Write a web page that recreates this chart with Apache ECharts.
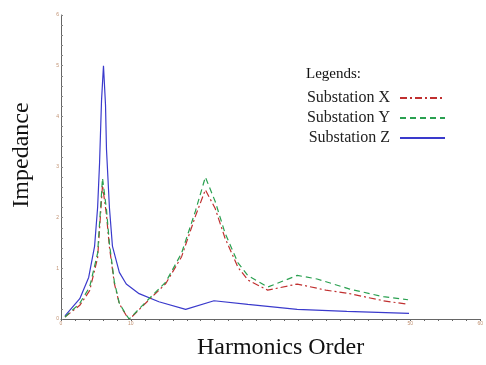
<!DOCTYPE html>
<html><head><meta charset="utf-8">
<script src="https://cdn.jsdelivr.net/npm/echarts@6/dist/echarts.min.js"></script>
<style>html,body{margin:0;padding:0;background:#fff}#c{width:486px;height:365px}</style>
</head><body><div id="c"></div>
<script>
// Harmonic order (x) and impedance (y, arbitrary units)
const seriesNames = ['Substation X', 'Substation Y', 'Substation Z'];
const xTickLabels = [0, 10, 50, 60];

const zOrder = [0.57, 2.69, 3.96, 4.81, 5.24, 5.52, 5.80, 6.08, 6.37, 6.51, 6.93, 7.36, 8.35, 9.34, 11.18, 14.01, 17.84, 21.9, 26.74, 33.8, 40.9, 49.81];
const zImp   = [0.06, 0.40, 0.82, 1.44, 2.20, 3.08, 4.31, 5.00, 4.23, 3.35, 2.20, 1.44, 0.92, 0.69, 0.50, 0.34, 0.19, 0.36, 0.29, 0.19, 0.15, 0.11];

const yOrder = [0.57, 2.69, 4.10, 5.24, 5.94, 6.51, 6.93, 7.64, 8.35, 9.34, 9.76, 10.19, 12.17, 15.0, 17.26, 19.24, 20.66, 22.07, 23.49, 25.33, 26.74, 29.57, 33.82, 36.65, 41.32, 46.13, 49.67];
const yImp   = [0.04, 0.31, 0.63, 1.30, 2.78, 2.16, 1.49, 0.73, 0.31, 0.08, 0.0, 0.06, 0.34, 0.73, 1.30, 2.13, 2.80, 2.32, 1.69, 1.11, 0.86, 0.63, 0.86, 0.79, 0.59, 0.44, 0.38];

const xOrder = [0.57, 2.69, 4.10, 5.24, 5.94, 6.51, 6.93, 7.64, 8.35, 9.34, 9.76, 10.19, 12.17, 15.0, 17.26, 19.24, 20.66, 22.07, 23.49, 25.33, 26.74, 29.57, 33.82, 37.9, 41.32, 46.13, 49.67];
const xImp   = [0.04, 0.27, 0.56, 1.21, 2.64, 2.05, 1.42, 0.70, 0.30, 0.07, 0.0, 0.05, 0.32, 0.70, 1.23, 2.03, 2.55, 2.18, 1.59, 1.02, 0.77, 0.57, 0.69, 0.57, 0.50, 0.36, 0.29];

const pair = (a, b) => a.map((v, i) => [v, b[i]]);
const serif = '"Liberation Serif", "DejaVu Serif", serif';

const chart = echarts.init(document.getElementById('c'), null, {renderer: 'canvas'});
chart.setOption({
  animation: false,
  backgroundColor: '#fff',
  grid: {left: 61, right: 1, top: 15, bottom: 37, containLabel: false},
  legend: {
    orient: 'vertical', right: 35, top: 85, align: 'right',
    itemWidth: 45, itemHeight: 10, itemGap: 4,
    itemStyle: {opacity: 0},
    textStyle: {fontFamily: serif, fontSize: 16, color: '#222', padding: [0, 5, 0, 0]},
    data: seriesNames
  },
  graphic: [{type: 'text', left: 306, top: 67, style: {text: 'Legends:', font: '15px ' + serif, fill: '#111'}}],
  xAxis: {
    type: 'value', min: 0, max: 60, interval: 2,
    name: 'Harmonics Order', nameLocation: 'middle', nameGap: 17,
    nameTextStyle: {fontFamily: serif, fontSize: 24, color: '#111', padding: [0, 0, 0, 20]},
    axisLine: {lineStyle: {color: '#666'}},
    axisTick: {inside: false, length: 2, lineStyle: {color: '#666'}},
    axisLabel: {fontSize: 5, color: '#c09070', margin: 2,
      formatter: v => xTickLabels.includes(Math.round(v)) && Math.abs(v - Math.round(v)) < 1e-6 ? String(Math.round(v)) : ''},
    splitLine: {show: false}
  },
  yAxis: {
    type: 'value', min: 0, max: 6, interval: 0.2,
    name: 'Impedance', nameLocation: 'middle', nameGap: 27, nameRotate: 90,
    nameTextStyle: {fontFamily: serif, fontSize: 24, color: '#111', padding: [0, 0, 0, 24]},
    axisLine: {show: true, lineStyle: {color: '#666'}},
    axisTick: {show: true, inside: true, length: 2, lineStyle: {color: '#888'}},
    axisLabel: {fontSize: 5, color: '#c09070', margin: 2,
      formatter: v => Math.abs(v - Math.round(v)) < 1e-6 ? String(Math.round(v)) : ''},
    splitLine: {show: false}
  },
  series: [
    {name: seriesNames[0], type: 'line', data: pair(xOrder, xImp), showSymbol: false, symbol: 'none',
     itemStyle: {color: '#d42a2a'}, lineStyle: {color: '#c03030', width: 1.2, type: [7, 3, 2, 3]}, z: 3},
    {name: seriesNames[1], type: 'line', data: pair(yOrder, yImp), showSymbol: false, symbol: 'none',
     itemStyle: {color: '#22a050'}, lineStyle: {color: '#2aa050', width: 1.2, type: [6, 4]}, z: 4},
    {name: seriesNames[2], type: 'line', data: pair(zOrder, zImp), showSymbol: false, symbol: 'none',
     itemStyle: {color: '#3a3ad0'}, lineStyle: {color: '#3a3acc', width: 1.2}, z: 2}
  ]
});
</script></body></html>
